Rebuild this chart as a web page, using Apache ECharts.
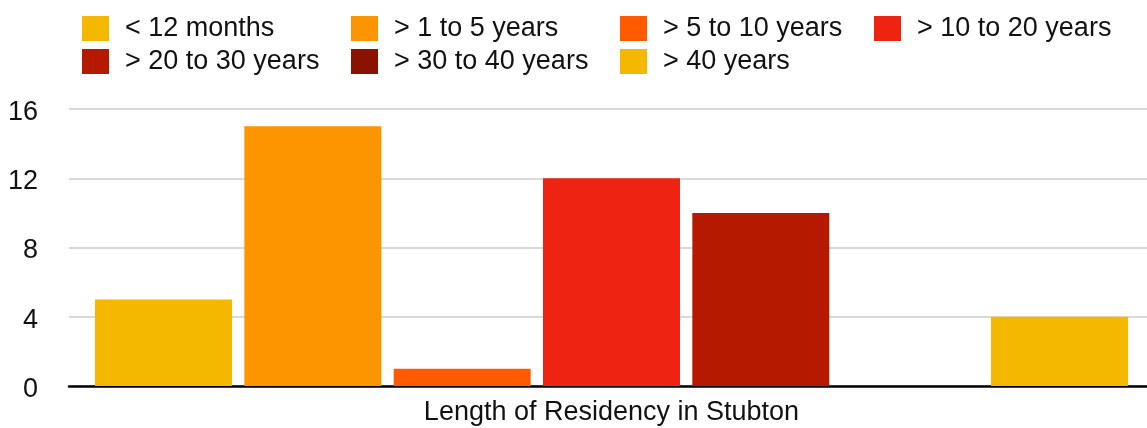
<!DOCTYPE html>
<html>
<head>
<meta charset="utf-8">
<script src="https://cdn.jsdelivr.net/npm/echarts@6/dist/echarts.min.js"></script>
<style>
  html, body { margin: 0; padding: 0; background: #fff; }
  #chart { width: 1147px; height: 428px; }
</style>
</head>
<body>
<div id="chart"></div>
<script>
const categories = ['Length of Residency in Stubton']
const seriesNames = ['< 12 months', '> 1 to 5 years', '> 5 to 10 years', '> 10 to 20 years',
  '> 20 to 30 years', '> 30 to 40 years', '> 40 years']
const seriesValues = [5, 15, 1, 12, 10, 0, 4]
const seriesColors = ['#F5B800', '#FC9500', '#FF5A00', '#EE2311', '#B51A00', '#8B1200', '#F5B800']
const yTicks = { min: 0, max: 16, interval: 4 }

const font = '"Liberation Sans", Arial, Helvetica, sans-serif'
const chart = echarts.init(document.getElementById('chart'))

// legend laid out in columns like the original
const legendCols = [
  { left: 82, data: [seriesNames[0], seriesNames[4]] },
  { left: 351, data: [seriesNames[1], seriesNames[5]] },
  { left: 620, data: [seriesNames[2], seriesNames[6]] },
  { left: 874, data: [seriesNames[3]] },
]

chart.setOption({
  animation: false,
  legend: legendCols.map((c) => ({
    left: c.left,
    top: 15,
    orient: 'vertical',
    data: c.data,
    icon: 'rect',
    itemWidth: 27,
    itemHeight: 25,
    itemGap: 6,
    padding: 0,
    selectedMode: false,
    textStyle: { fontSize: 27, color: '#111', fontFamily: font, padding: [2, 0, 0, 11] },
  })),
  grid: { left: 69, right: -7, top: 109, bottom: 42, outerBoundsMode: 'none' },
  xAxis: {
    type: 'category',
    data: categories,
    axisTick: { show: false },
    axisLine: { lineStyle: { color: '#000', width: 2.5 } },
    axisLabel: { fontSize: 27, color: '#111', fontFamily: font, margin: 13 },
  },
  yAxis: {
    type: 'value',
    min: yTicks.min,
    max: yTicks.max,
    interval: yTicks.interval,
    axisLabel: {
      margin: 31,
      formatter: '{v|{value}}',
      rich: { v: { fontSize: 27, color: '#111', fontFamily: font, padding: [7, 0, 0, 0] } },
    },
    splitLine: { lineStyle: { color: '#cccccc', width: 1.5 } },
  },
  series: seriesNames.map((name, i) => ({
    name,
    type: 'bar',
    data: [seriesValues[i]],
    barWidth: 137,
    barGap: '9%',
    itemStyle: { color: seriesColors[i] },
  })),
})
</script>
</body>
</html>
